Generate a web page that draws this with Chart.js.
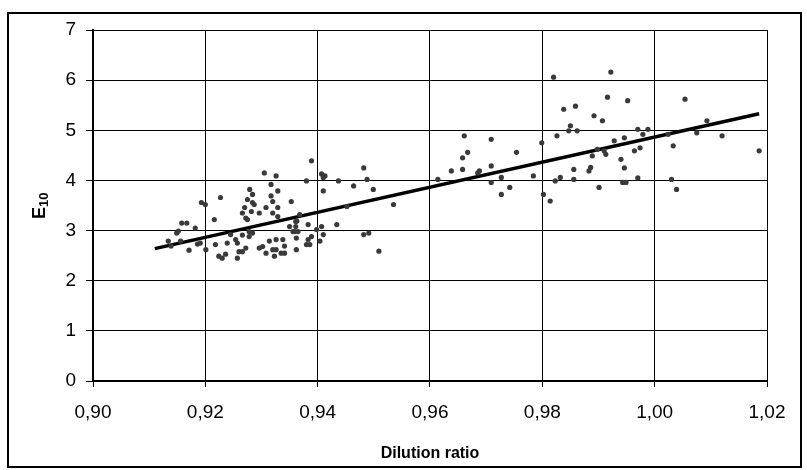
<!DOCTYPE html>
<html>
<head>
<meta charset="utf-8">
<script src="https://cdn.jsdelivr.net/npm/chart.js@4"></script>
<style>
  html, body { margin: 0; padding: 0; background: #fff; }
  #wrap { position: relative; width: 807px; height: 470px; }
  #frame { position: absolute; left: 7px; top: 12px; width: 791px; height: 452px; border: 2px solid #000; pointer-events: none; }
  canvas { position: absolute; left: 0; top: 0; }
</style>
</head>
<body>
<div id="wrap">
  <canvas id="chart" width="807" height="470"></canvas>
  <div id="frame"></div>
</div>
<script>
// measured points: dilution ratio vs E10
const dilution = [
  0.9134, 0.9139, 0.9149, 0.9152, 0.9158, 0.9167, 0.9156, 0.9171, 0.9182, 0.9186,
  0.9191, 0.9193, 0.9200, 0.9201, 0.9216, 0.9227, 0.9218, 0.9224, 0.9230, 0.9236,
  0.9239, 0.9245, 0.9254, 0.9257, 0.9257, 0.9260, 0.9266, 0.9266, 0.9266, 0.9270,
  0.9272, 0.9275, 0.9272, 0.9275, 0.9279, 0.9284, 0.9282, 0.9287, 0.9284, 0.9278,
  0.9278, 0.9284, 0.9296, 0.9296, 0.9302, 0.9305, 0.9308, 0.9308, 0.9314, 0.9317,
  0.9317, 0.9320, 0.9320, 0.9320, 0.9323, 0.9326, 0.9329, 0.9329, 0.9326, 0.9326,
  0.9329, 0.9335, 0.9341, 0.9338, 0.9341, 0.9350, 0.9353, 0.9356, 0.9359, 0.9361,
  0.9361, 0.9362, 0.9362, 0.9365,
  0.9389, 0.9380, 0.9407, 0.9410, 0.9413, 0.9410, 0.9437, 0.9464, 0.9482, 0.9488,
  0.9499, 0.9535, 0.9368, 0.9363, 0.9383, 0.9398, 0.9407, 0.9410, 0.9389, 0.9383,
  0.9380, 0.9386, 0.9404, 0.9434, 0.9452, 0.9482, 0.9491, 0.9509,
  0.9614, 0.9638, 0.9658, 0.9658, 0.9667, 0.9661, 0.9688, 0.9685, 0.9709, 0.9709,
  0.9709, 0.9727, 0.9727, 0.9742, 0.9754, 0.9784, 0.9799, 0.9802, 0.9814, 0.9820,
  0.9823, 0.9826, 0.9832, 0.9838, 0.9847, 0.9850, 0.9859, 0.9862, 0.9856, 0.9856,
  0.9883, 0.9886, 0.9889, 0.9892,
  0.9922, 0.9916, 0.9907, 0.9952, 0.9928, 0.9898, 0.9910, 0.9913, 0.9901, 0.9940,
  0.9946, 0.9946, 0.9943, 0.9949, 0.9964, 0.9970, 0.9970, 0.9974, 0.9979, 0.9988,
  1.0024, 1.0033, 1.0030, 1.0039, 1.0054, 1.0075, 1.0093, 1.0120, 1.0186
];
const e10 = [
  2.79, 2.69, 2.95, 2.99, 3.15, 3.15, 2.79, 2.61, 3.05, 2.73,
  2.75, 3.56, 3.52, 2.62, 3.22, 3.66, 2.72, 2.49, 2.45, 2.53,
  2.75, 2.92, 2.82, 2.75, 2.45, 2.58, 2.58, 2.91, 3.35, 3.46,
  3.25, 3.22, 2.65, 3.62, 3.82, 3.72, 3.38, 3.52, 3.56, 2.98,
  2.88, 2.95, 3.35, 2.65, 2.68, 4.15, 3.46, 2.55, 2.79, 3.92,
  3.69, 3.58, 3.35, 2.62, 2.49, 4.09, 3.79, 3.46, 2.82, 2.62,
  3.28, 2.55, 2.55, 2.82, 2.69, 3.08, 3.58, 2.98, 2.98, 3.18,
  3.08, 2.85, 2.62, 2.98,
  4.39, 3.99, 4.13, 4.06, 4.09, 3.79, 3.99, 3.89, 4.25, 4.02,
  3.82, 3.52, 3.32, 3.19, 3.12, 3.02, 3.08, 2.92, 2.88, 2.82,
  2.72, 2.72, 2.79, 3.12, 3.48, 2.92, 2.95, 2.59,
  4.02, 4.19, 4.22, 4.45, 4.56, 4.89, 4.19, 4.15, 4.82, 4.29,
  3.96, 4.06, 3.72, 3.86, 4.56, 4.09, 4.75, 3.72, 3.59, 6.06,
  3.99, 4.89, 4.06, 5.42, 4.99, 5.09, 5.48, 4.99, 4.22, 4.02,
  4.19, 4.26, 4.49, 5.29,
  6.16, 5.66, 5.19, 5.59, 4.79, 4.62, 4.59, 4.52, 3.86, 4.42,
  4.85, 4.25, 3.96, 3.96, 4.59, 5.02, 4.05, 4.65, 4.92, 5.02,
  4.92, 4.69, 4.02, 3.82, 5.62, 4.95, 5.19, 4.89, 4.59
];
// linear trend line end points
const trendX = [0.911, 1.0186];
const trendY = [2.64, 5.33];

const xTicks = [0.90, 0.92, 0.94, 0.96, 0.98, 1.00, 1.02];
const yMax = 7;

const points = dilution.map((d, i) => ({ x: d, y: e10[i] }));
const trend = trendX.map((d, i) => ({ x: d, y: trendY[i] }));

// rotated y title with subscript
const yTitle = {
  id: "yTitle",
  afterDraw(chart) {
    const ctx = chart.ctx;
    ctx.save();
    ctx.translate(45, 219);
    ctx.rotate(-Math.PI / 2);
    ctx.fillStyle = "#000";
    ctx.textBaseline = "alphabetic";
    ctx.textAlign = "left";
    ctx.font = "bold 18px 'Liberation Sans', Arial, sans-serif";
    ctx.fillText("E", 0, 0);
    const w = ctx.measureText("E").width;
    ctx.font = "bold 13px 'Liberation Sans', Arial, sans-serif";
    ctx.fillText("10", w, 3);
    ctx.restore();
  }
};

Chart.defaults.font.family = "'Liberation Sans', Arial, sans-serif";
Chart.defaults.color = "#000";

new Chart(document.getElementById("chart").getContext("2d"), {
  type: "scatter",
  data: {
    datasets: [
      {
        label: "E10",
        data: points,
        backgroundColor: "#3a3a3a",
        borderWidth: 0,
        pointRadius: 2.6,
        pointHoverRadius: 2.6
      },
      {
        type: "line",
        label: "Trend",
        data: trend,
        borderColor: "#000",
        borderWidth: 3.5,
        pointRadius: 0,
        fill: false
      }
    ]
  },
  options: {
    responsive: false,
    animation: false,
    layout: { padding: { left: 0, top: 30, right: 40, bottom: 0 } },
    plugins: { legend: { display: false }, tooltip: { enabled: false } },
    scales: {
      x: {
        type: "linear",
        min: xTicks[0],
        max: xTicks[xTicks.length - 1],
        afterBuildTicks: s => { s.ticks = xTicks.map(v => ({ value: v })); },
        afterFit: s => { s.height = 89; },
        ticks: {
          font: { size: 19 },
          padding: 14,
          maxRotation: 0,
          callback: v => v.toFixed(2).replace(".", ",")
        },
        grid: { color: "#000", lineWidth: 1, tickLength: 6, tickColor: "#000" },
        border: { color: "#000", width: 2 },
        title: {
          display: true,
          text: "Dilution ratio",
          font: { size: 16, weight: "bold" },
          padding: { top: 0, bottom: 7 }
        }
      },
      y: {
        min: 0,
        max: yMax,
        afterFit: s => { s.width = 93; },
        ticks: { stepSize: 1, font: { size: 19 }, padding: 10 },
        grid: { color: "#000", lineWidth: 1, tickLength: 7, tickColor: "#000" },
        border: { color: "#000", width: 2 }
      }
    }
  },
  plugins: [yTitle]
});
</script>
</body>
</html>
